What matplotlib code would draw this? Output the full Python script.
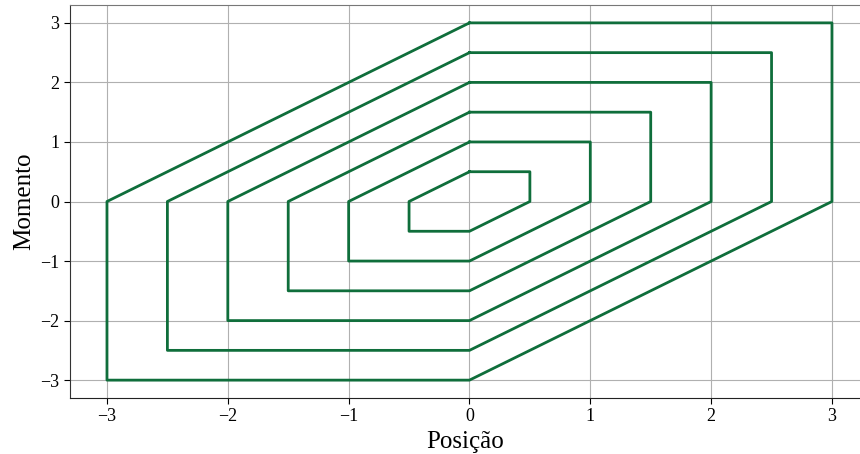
import numpy as np
import matplotlib
matplotlib.use('Agg')
import matplotlib.pyplot as plt

# tamanhos das orbitas (hexagonos) no espaco de fase
amplitudes = [0.5, 1.0, 1.5, 2.0, 2.5, 3.0]
# vertices normalizados de cada hexagono (posicao, momento)
hex_x = [0, 1, 1, 0, -1, -1, 0]
hex_p = [1, 1, 0, -1, -1, 0, 1]
ticks = [-3, -2, -1, 0, 1, 2, 3]

plt.rcParams['font.family'] = ['Liberation Serif', 'DejaVu Serif']
plt.rcParams['axes.unicode_minus'] = True

fig = plt.figure(figsize=(8.6, 4.54), dpi=100)
ax = fig.add_axes([70 / 860, 1 - 398 / 454, 790 / 860, 393 / 454])

for a in amplitudes:
    ax.plot(np.array(hex_x) * a, np.array(hex_p) * a, color='#0f6e3b', lw=2)

ax.set_xlim(-3.306, 3.232)
ax.set_ylim(-3.3, 3.3)
ax.set_xticks(ticks)
ax.set_yticks(ticks)
ax.grid(True, color='#b0b0b0', lw=0.8)
ax.set_axisbelow(True)
ax.tick_params(labelsize=13, direction='out', length=4)
ax.spines['top'].set_color('#777777')
ax.spines['right'].set_visible(False)
ax.spines['left'].set_color('#333333')
ax.spines['bottom'].set_color('#222222')

ax.set_xlabel('Posição', fontsize=18)
ax.set_ylabel('Momento', fontsize=18)

fig.savefig('out.png', dpi=100)
